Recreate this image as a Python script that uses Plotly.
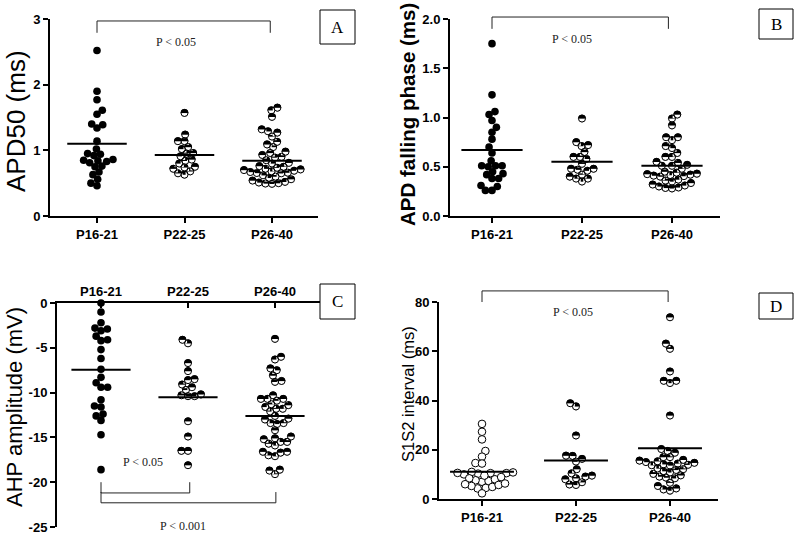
import math
import plotly.graph_objects as go

groups = ["P16-21", "P22-25", "P26-40"]

# Panel A: APD50 (ms)
apd50_p16 = [2.52, 1.90, 1.77, 1.61, 1.55, 1.40, 1.39, 1.34, 1.14, 1.02, 0.95, 0.94, 0.92,
             0.86, 0.85, 0.84, 0.83, 0.81, 0.76, 0.75, 0.67, 0.63, 0.56, 0.50, 0.46]
apd50_p22 = [1.57, 1.24, 1.14, 1.14, 1.05, 0.96, 0.95, 1.02, 0.91, 0.86, 0.84, 0.80, 0.74,
             0.68, 0.63, 0.65, 0.72, 0.75]
apd50_p26 = [1.65, 1.61, 1.51, 1.32, 1.29, 1.27, 1.21, 1.13, 1.09, 1.05, 0.98, 0.96, 0.93,
             0.90, 0.89, 0.85, 0.81, 0.80,
             0.65, 0.655, 0.66, 0.67, 0.68, 0.69, 0.70, 0.71, 0.72, 0.735, 0.75, 0.76,
             0.49, 0.495, 0.50, 0.51, 0.52, 0.54, 0.56, 0.58, 0.60, 0.62]
apd50_means = [1.10, 0.93, 0.84]

# Panel B: APD falling phase (ms)
fall_p16 = [1.75, 1.23, 1.06, 1.03, 0.97, 0.90, 0.85, 0.78, 0.70, 0.64, 0.56, 0.51, 0.50,
            0.51, 0.51, 0.45, 0.43, 0.42, 0.38, 0.38, 0.31, 0.30, 0.26, 0.26]
fall_p22 = [0.99, 0.75, 0.72, 0.71, 0.65, 0.60, 0.60, 0.58, 0.53, 0.48, 0.48, 0.47, 0.46,
            0.42, 0.40, 0.38, 0.38, 0.35]
fall_p26 = [1.03, 0.99, 0.92, 0.80, 0.80, 0.77, 0.71, 0.69, 0.64, 0.60, 0.60, 0.55, 0.54,
            0.52, 0.51, 0.51,
            0.40, 0.405, 0.41, 0.415, 0.42, 0.425, 0.43, 0.44, 0.45, 0.48,
            0.28, 0.285, 0.29, 0.30, 0.31, 0.32, 0.335, 0.35, 0.36, 0.37]
fall_means = [0.67, 0.55, 0.51]

# Panel C: AHP amplitude (mV)
ahp_p16 = [0.0, -1.0, -2.2, -2.8, -2.9, -3.1, -3.7, -4.1, -4.2, -5.2, -6.2, -7.4, -8.3, -8.9,
           -9.4, -9.4, -10.8, -11.5, -11.6, -12.4, -12.6, -13.1, -14.7, -18.6]
ahp_p22 = [-4.1, -4.5, -6.7, -7.6, -8.6, -8.5, -9.1, -9.7, -9.4, -10.3, -10.4, -10.4, -10.2,
           -13.2, -14.9, -16.5, -16.5, -18.1]
ahp_p26 = [-4.0, -6.0, -6.3, -7.3, -7.5, -8.1, -8.7, -8.8, -10.3, -10.7, -10.7, -10.7, -10.9,
           -11.3, -11.4, -11.6, -11.8, -11.8, -12.1, -12.6, -12.9, -13.0, -13.4, -13.4, -13.5,
           -14.2, -14.9, -15.1, -15.2, -15.5, -15.5, -15.7, -15.9, -16.6, -16.6, -16.7, -17.0,
           -17.1, -18.6, -18.7, -19.1]
ahp_means = [-7.46, -10.52, -12.61]

# Panel D: S1S2 interval (ms)
s1s2_p16 = [30.5, 27.3, 24.2, 19.5, 17.2, 14.6, 14.4,
            10.0, 10.3, 10.5, 10.5, 10.6, 10.8, 11.0,
            7.0, 7.3, 7.6, 8.0, 8.4, 8.9, 9.5,
            4.3, 4.5, 4.9, 5.3, 5.7, 6.0, 6.3,
            2.3]
s1s2_p22 = [38.9, 37.6, 25.8, 17.6, 17.5, 16.3, 15.2, 12.1, 10.4, 9.5, 9.1, 8.4, 8.0, 6.8,
            5.9, 5.7]
s1s2_p26 = [73.8, 63.1, 61.0, 51.8, 48.0, 48.0, 47.1, 33.9, 20.3, 19.5, 18.8, 17.0, 17.0,
            13.6, 13.7, 13.9, 14.1, 14.4, 14.7, 15.0, 15.3, 15.6, 15.9,
            8.4, 8.7, 9.1, 9.6, 10.2, 10.8, 11.3, 11.8, 12.1, 12.4,
            3.4, 3.9, 4.3, 5.3, 6.6]
s1s2_means = [11.1, 15.6, 20.6]

W, H = 800, 536

# panel geometry (pixels): x axis left/right, first & last category centre, y range mapping
panels = {
    "A": dict(xl=50, xr=318, c0=97, c2=272, ytop=19, ybot=216, yr=[0, 3], xa="x", ya="y"),
    "B": dict(xl=450, xr=720, c0=492, c2=672, ytop=19, ybot=216, yr=[0, 2], xa="x2", ya="y2"),
    "C": dict(xl=57, xr=320, c0=101, c2=275, ytop=303, ybot=527, yr=[-25, 0], xa="x3", ya="y3"),
    "D": dict(xl=439, xr=718, c0=482, c2=670, ytop=302, ybot=499, yr=[0, 80], xa="x4", ya="y4"),
}
for p in panels.values():
    s = (p["c2"] - p["c0"]) / 2.0
    p["s"] = s
    p["xrange"] = [(p["xl"] - p["c0"]) / s, 2 + (p["xr"] - p["c2"]) / s]
    p["xdom"] = [p["xl"] / W, p["xr"] / W]
    p["ydom"] = [1 - p["ybot"] / H, 1 - p["ytop"] / H]
    p["ky"] = (p["ybot"] - p["ytop"]) / (p["yr"][1] - p["yr"][0])


def px(p, xv):
    r = p["xrange"]; d = p["xdom"]
    return d[0] + (xv - r[0]) / (r[1] - r[0]) * (d[1] - d[0])


def py(p, yv):
    r = p["yr"]; d = p["ydom"]
    return d[0] + (yv - r[0]) / (r[1] - r[0]) * (d[1] - d[0])


def swarm(vals, ky, dia):
    """Beeswarm offsets in pixels (lowest values placed first -> smile-shaped rows)."""
    placed = []
    xs = [0.0] * len(vals)
    order = sorted(range(len(vals)), key=lambda i: vals[i])
    flip = 1
    for i in order:
        y = vals[i] * ky
        cands = [0.0]
        for (qx, qy) in placed:
            dy = abs(qy - y)
            if dy < dia:
                dx = math.sqrt(dia * dia - dy * dy)
                cands += [qx + dx, qx - dx]
        cands.sort(key=lambda c: (round(abs(c), 3), flip * c))
        for c in cands:
            if all((c - qx) ** 2 + (y - qy) ** 2 >= dia * dia - 1e-6 for qx, qy in placed):
                xs[i] = c
                placed.append((c, y))
                if c != 0:
                    flip = -flip
                break
    return xs


fig = go.Figure()
DIA = 6.6
MS = 7.6

layers = {"fill": [], "cover": [], "ring": [], "mean": []}


def add_group(p, gi, vals, style):
    offs = swarm(vals, p["ky"], DIA)
    xs = [gi + o / p["s"] for o in offs]
    common = dict(x=xs, mode="markers", xaxis=p["xa"], yaxis=p["ya"],
                  showlegend=False, hoverinfo="skip", cliponaxis=False)
    if style == "dark":
        layers["fill"].append(go.Scatter(y=vals, marker=dict(size=MS, color="black", line=dict(width=0)), **common))
    elif style == "half":
        shift = (MS / 4.0) / p["ky"]
        layers["fill"].append(go.Scatter(y=vals, marker=dict(size=MS, color="black", line=dict(width=0)), **common))
        layers["cover"].append(go.Scatter(y=[v - shift for v in vals],
                                          marker=dict(symbol="line-ew", size=MS - 1, color="white",
                                                      line=dict(width=MS / 2.0 - 0.3, color="white")), **common))
        layers["ring"].append(go.Scatter(y=vals, marker=dict(symbol="circle-open", size=MS - 0.5, color="black",
                                                             line=dict(width=1, color="black")), **common))
    else:
        layers["fill"].append(go.Scatter(y=vals, marker=dict(size=MS, color="white",
                                                             line=dict(width=1, color="black")), **common))


def add_mean(p, gi, m):
    layers["mean"].append(go.Scatter(x=[gi - 0.34, gi + 0.34], y=[m, m], mode="lines",
                                     line=dict(color="black", width=2), xaxis=p["xa"], yaxis=p["ya"],
                                     showlegend=False, hoverinfo="skip"))


data = {
    "A": ([apd50_p16, apd50_p22, apd50_p26], apd50_means, ["dark", "half", "half"]),
    "B": ([fall_p16, fall_p22, fall_p26], fall_means, ["dark", "half", "half"]),
    "C": ([ahp_p16, ahp_p22, ahp_p26], ahp_means, ["dark", "half", "half"]),
    "D": ([s1s2_p16, s1s2_p22, s1s2_p26], s1s2_means, ["open", "half", "half"]),
}
for key, (series, means, styles) in data.items():
    p = panels[key]
    for gi, vals in enumerate(series):
        add_group(p, gi, vals, styles[gi])
    for gi, m in enumerate(means):
        add_mean(p, gi, m)

for name in ["fill", "cover", "ring", "mean"]:
    for tr in layers[name]:
        fig.add_trace(tr)

TICKFONT = dict(family="Liberation Sans Narrow, Arial Narrow, Liberation Sans, Arial",
                size=13, color="black", weight="bold")
axis_common = dict(showline=True, linewidth=2, linecolor="black", ticks="outside",
                   ticklen=5, tickwidth=2, tickcolor="black", showgrid=False, zeroline=False,
                   tickfont=TICKFONT, automargin=False, fixedrange=True)

yticks = {
    "A": dict(tickvals=[0, 1, 2, 3], ticktext=["0", "1", "2", "3"]),
    "B": dict(tickvals=[0, 0.5, 1.0, 1.5, 2.0], ticktext=["0.0", "0.5", "1.0", "1.5", "2.0"]),
    "C": dict(tickvals=[0, -5, -10, -15, -20, -25], ticktext=["0", "-5", "-10", "-15", "-20", "-25"]),
    "D": dict(tickvals=[0, 20, 40, 60, 80], ticktext=["0", "20", "40", "60", "80"]),
}

layout = dict(width=W, height=H, margin=dict(l=0, r=0, t=0, b=0),
              paper_bgcolor="white", plot_bgcolor="white", showlegend=False)
for key, p in panels.items():
    xn = "xaxis" + p["xa"][1:]
    yn = "yaxis" + p["ya"][1:]
    xa = dict(axis_common, domain=p["xdom"], range=p["xrange"], anchor=p["ya"],
              tickvals=[0, 1, 2], ticktext=groups)
    if key == "C":
        xa.update(side="top", ticks="inside")
    ya = dict(axis_common, domain=p["ydom"], range=p["yr"], anchor=p["xa"], **yticks[key])
    layout[xn] = xa
    layout[yn] = ya
fig.update_layout(**layout)

# significance brackets: (panel, x0 group, x1 group, level, drop to)
brackets = [
    ("A", 0, 1.98, 2.97, 2.79),
    ("B", 0, 1.96, 2.02, 1.90),
    ("C", 0, 1.02, -21.2, -20.0),
    ("C", 0, 2.01, -22.3, -21.1),
    ("D", 0, 1.98, 84.5, 80.0),
]
for key, g0, g1, lvl, drop in brackets:
    p = panels[key]
    xp = [px(p, g0), px(p, g0), px(p, g1), px(p, g1)]
    yp = [py(p, drop), py(p, lvl), py(p, lvl), py(p, drop)]
    path = "M{},{} L{},{} L{},{} L{},{}".format(xp[0], yp[0], xp[1], yp[1], xp[2], yp[2], xp[3], yp[3])
    fig.add_shape(type="path", path=path, xref="paper", yref="paper",
                  line=dict(color="#222", width=1))

# p-value labels: (panel, x in group units, y in data units, text)
p_labels = [
    ("A", 0.90, 2.65, "P < 0.05"),
    ("B", 0.89, 1.80, "P < 0.05"),
    ("C", 0.48, -17.75, "P < 0.05"),
    ("C", 0.94, -24.9, "P < 0.001"),
    ("D", 0.97, 75.9, "P < 0.05"),
]
for key, xv, yv, t in p_labels:
    p = panels[key]
    fig.add_annotation(x=xv, y=yv, xref=p["xa"], yref=p["ya"], text=t, showarrow=False,
                       xanchor="center", yanchor="middle",
                       font=dict(family="Liberation Serif, Times New Roman, serif", size=12, color="#222"))

# panel letter boxes (pixel boxes)
boxes = [("A", 320, 355, 10, 44), ("B", 759, 793, 9, 39), ("C", 320, 355, 284, 319), ("D", 759, 793, 293, 319)]
for t, x0, x1, y0, y1 in boxes:
    fig.add_shape(type="rect", xref="paper", yref="paper", x0=x0 / W, x1=x1 / W,
                  y0=1 - y1 / H, y1=1 - y0 / H, line=dict(color="black", width=1), fillcolor="white")
    fig.add_annotation(x=(x0 + x1) / 2 / W, y=1 - (y0 + y1) / 2 / H, xref="paper", yref="paper",
                       text=t, showarrow=False, xanchor="center", yanchor="middle",
                       font=dict(family="Liberation Serif, Times New Roman, serif", size=17, color="black"))

# y-axis titles: (text, x centre px, y centre px, size, weight)
ytitles = [("APD50 (ms)", 16, 121, 26, "normal"), ("APD falling phase (ms)", 407, 115, 20.5, "bold"),
           ("AHP amplitude (mV)", 14, 407, 22, "normal"), ("S1S2 interval (ms)", 408, 394, 16.5, "normal")]
for t, xc, yc, fs, wt in ytitles:
    fig.add_annotation(x=xc / W, y=1 - yc / H, xref="paper", yref="paper", text=t,
                       textangle=-90, showarrow=False, xanchor="center", yanchor="middle",
                       font=dict(family="Liberation Sans, Arial, sans-serif", size=fs, color="black",
                                 weight=wt))

fig.write_html("out.html", config={"displayModeBar": False},
               post_script="document.body.style.margin='0px';"
                           "document.documentElement.style.overflow='hidden';")
